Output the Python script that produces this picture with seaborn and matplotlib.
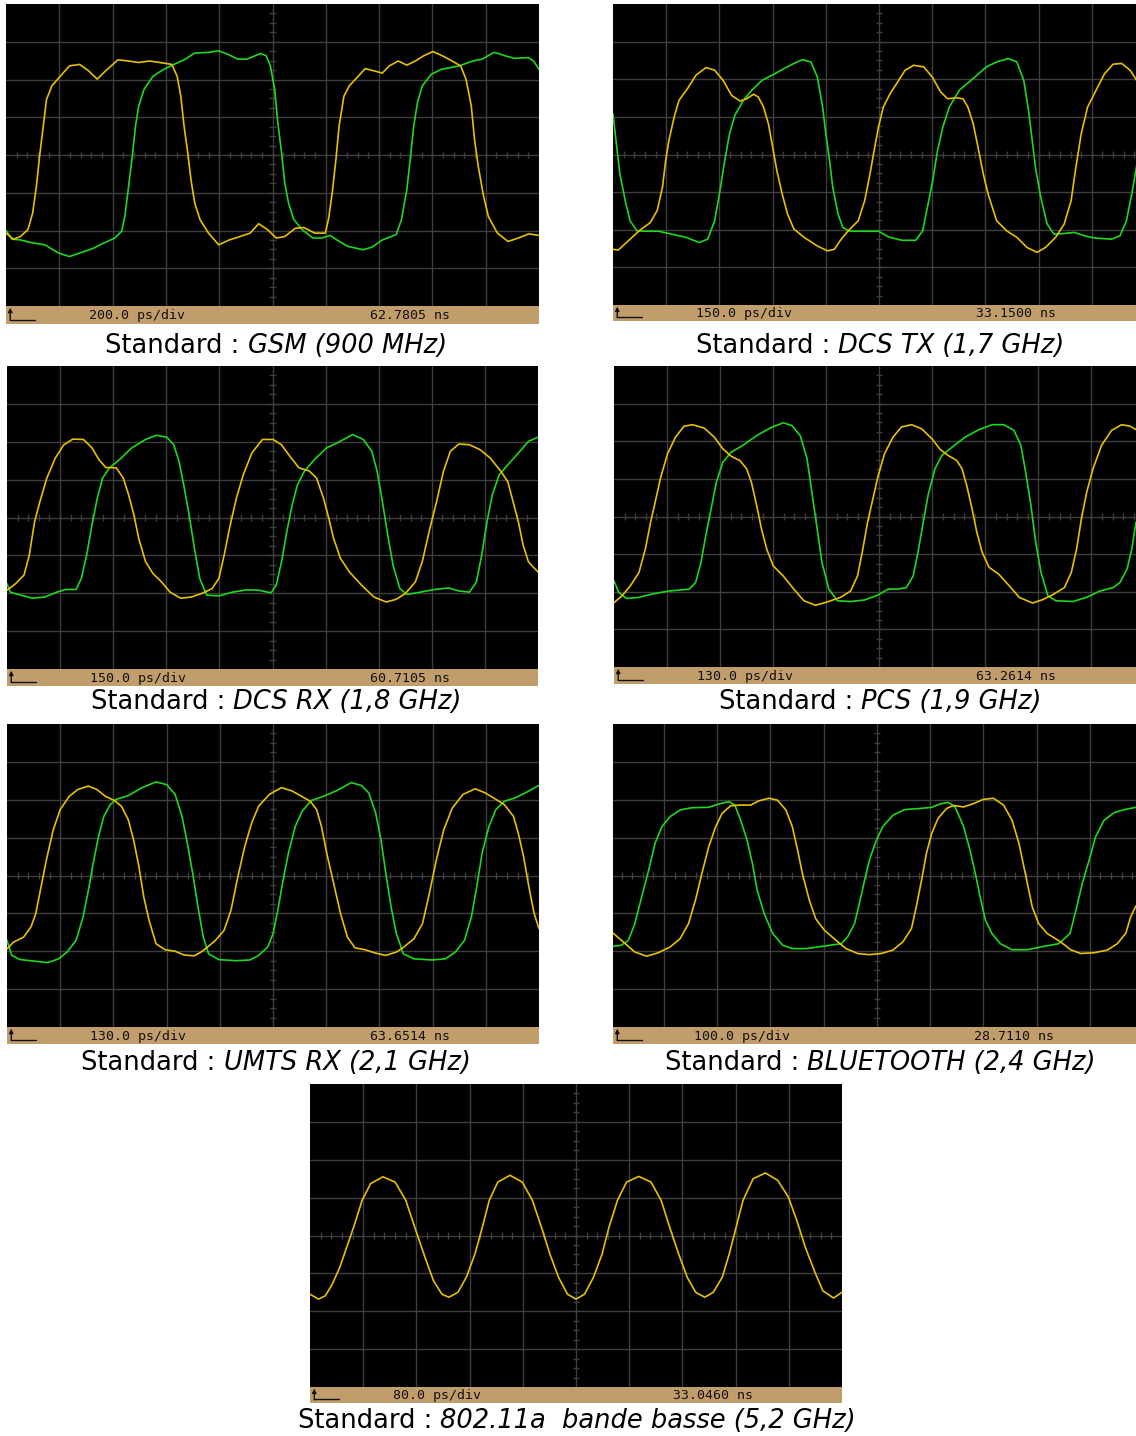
import matplotlib
matplotlib.use("Agg")
import matplotlib.pyplot as plt
import pandas as pd
import numpy as np
import seaborn as sns

# ---------------- data (x in divisions 0..10, y in divisions 0..8) ----------------
gsm_yellow = [(0,1.93),(0.14,1.77),(0.27,1.84),(0.41,2.02),(0.50,2.46),(0.57,3.17),(0.63,3.97),(0.70,4.77),
    (0.76,5.47),(0.86,5.83),(1.02,6.09),(1.19,6.36),(1.38,6.40),(1.55,6.23),(1.71,6.01),(1.87,6.23),(2.10,6.52),
    (2.30,6.49),(2.49,6.45),(2.69,6.49),(2.89,6.45),(3.11,6.40),(3.21,6.09),(3.28,5.56),(3.34,4.77),(3.41,4.06),
    (3.47,3.35),(3.54,2.73),(3.64,2.29),(3.80,1.93),(3.99,1.62),(4.19,1.75),(4.39,1.84),(4.58,1.93),(4.74,2.18),
    (4.91,2.02),(5.07,1.80),(5.23,1.84),(5.43,2.06),(5.59,2.08),(5.79,1.93),(5.99,1.93),(6.05,2.29),(6.12,2.99),
    (6.19,3.88),(6.25,4.77),(6.34,5.56),(6.44,5.83),(6.61,6.09),(6.74,6.29),(6.90,6.23),(7.06,6.17),(7.19,6.36),
    (7.36,6.49),(7.52,6.38),(7.68,6.49),(7.84,6.63),(8.01,6.74),(8.17,6.64),(8.37,6.49),(8.53,6.36),(8.63,6.01),
    (8.73,5.30),(8.79,4.41),(8.86,3.70),(8.96,2.91),(9.05,2.37),(9.22,1.93),(9.42,1.71),(9.61,1.80),(9.81,1.91),(10.0,1.87)]
gsm_green = [(0,2.00),(0.11,1.77),(0.27,1.75),(0.47,1.68),(0.73,1.62),(0.99,1.40),(1.19,1.31),(1.38,1.40),
    (1.64,1.53),(1.84,1.67),(2.04,1.80),(2.17,1.98),(2.23,2.37),(2.30,3.17),(2.37,3.97),(2.43,4.77),(2.49,5.30),
    (2.59,5.74),(2.76,6.09),(2.96,6.27),(3.15,6.40),(3.34,6.52),(3.54,6.70),(3.80,6.72),(3.99,6.76),(4.16,6.67),
    (4.35,6.54),(4.52,6.54),(4.78,6.69),(4.88,6.63),(4.96,6.36),(5.04,5.74),(5.10,4.85),(5.17,4.06),(5.23,3.26),
    (5.30,2.73),(5.40,2.29),(5.56,2.02),(5.76,1.80),(5.92,1.80),(6.08,1.87),(6.21,1.75),(6.41,1.58),(6.70,1.49),
    (6.87,1.56),(7.06,1.75),(7.32,1.89),(7.42,2.29),(7.52,3.08),(7.59,3.97),(7.65,4.77),(7.72,5.39),(7.81,5.83),
    (7.98,6.14),(8.17,6.27),(8.50,6.36),(8.76,6.49),(8.93,6.54),(9.16,6.72),(9.36,6.63),(9.54,6.56),(9.80,6.58),
    (9.90,6.49),(10.0,6.27)]

dcstx_yellow = [(0,1.48),(0.10,1.46),(0.29,1.71),(0.49,1.97),(0.70,2.19),(0.83,2.51),(0.93,3.13),(0.99,3.84),
    (1.05,4.37),(1.15,5.00),(1.24,5.44),(1.40,5.75),(1.56,6.11),(1.75,6.31),(1.91,6.24),(2.07,5.97),(2.23,5.57),
    (2.39,5.42),(2.51,5.48),(2.64,5.60),(2.73,5.53),(2.83,5.26),(2.92,4.82),(2.99,4.28),(3.08,3.57),(3.18,2.95),
    (3.28,2.42),(3.40,2.02),(3.59,1.80),(3.84,1.57),(4.03,1.44),(4.16,1.48),(4.29,1.75),(4.42,1.97),(4.61,2.24),
    (4.73,2.77),(4.83,3.48),(4.92,4.20),(4.99,4.73),(5.08,5.26),(5.21,5.62),(5.37,5.97),(5.49,6.24),(5.65,6.37),
    (5.84,6.33),(6.00,6.06),(6.16,5.66),(6.29,5.48),(6.45,5.51),(6.58,5.48),(6.67,5.26),(6.77,4.82),(6.86,4.20),
    (6.96,3.48),(7.05,2.95),(7.21,2.24),(7.40,1.97),(7.59,1.80),(7.78,1.53),(7.97,1.40),(8.13,1.53),(8.32,1.80),
    (8.48,2.15),(8.61,2.77),(8.70,3.66),(8.80,4.55),(8.92,5.26),(9.08,5.71),(9.24,6.15),(9.40,6.40),(9.56,6.42),
    (9.72,6.24),(9.86,5.93)]
dcstx_green = [(0,5.08),(0.07,4.20),(0.13,3.48),(0.23,2.77),(0.32,2.24),(0.45,1.97),(0.61,1.96),(0.86,1.96),
    (1.11,1.88),(1.37,1.80),(1.62,1.66),(1.78,1.75),(1.91,2.24),(2.00,2.95),(2.10,3.84),(2.19,4.55),(2.29,5.04),
    (2.45,5.44),(2.61,5.71),(2.80,5.97),(3.02,6.13),(3.21,6.28),(3.40,6.42),(3.56,6.52),(3.72,6.46),(3.84,6.06),
    (3.94,5.26),(4.00,4.55),(4.07,3.84),(4.13,3.13),(4.23,2.42),(4.32,2.06),(4.45,1.96),(4.73,1.96),(4.99,1.96),
    (5.18,1.81),(5.43,1.72),(5.69,1.72),(5.82,1.97),(5.91,2.60),(6.01,3.31),(6.10,4.11),(6.20,4.73),(6.32,5.26),
    (6.51,5.71),(6.77,6.02),(7.02,6.33),(7.21,6.46),(7.43,6.55),(7.59,6.46),(7.72,5.97),(7.81,5.17),(7.88,4.37),
    (7.94,3.66),(8.04,2.86),(8.16,2.15),(8.29,1.88),(8.48,1.90),(8.67,1.93),(8.86,1.84),(9.05,1.78),(9.37,1.75),
    (9.53,1.84),(9.65,2.24),(9.75,2.95),(9.86,3.84)]

dcsrx_yellow = [(0,2.08),(0.16,2.25),(0.32,2.48),(0.42,3.01),(0.52,3.89),(0.62,4.42),(0.75,5.04),(0.91,5.57),
    (1.07,5.92),(1.24,6.07),(1.44,6.06),(1.60,5.84),(1.73,5.53),(1.86,5.32),(2.06,5.31),(2.19,5.04),(2.29,4.60),
    (2.39,4.07),(2.48,3.45),(2.61,2.83),(2.75,2.52),(2.91,2.30),(3.07,2.03),(3.27,1.87),(3.47,1.90),(3.66,1.99),
    (3.86,2.12),(3.99,2.39),(4.09,3.01),(4.19,3.71),(4.32,4.51),(4.45,5.13),(4.61,5.70),(4.81,6.06),(5.01,6.06),
    (5.17,5.92),(5.33,5.61),(5.50,5.31),(5.69,5.23),(5.83,5.04),(5.96,4.51),(6.06,3.98),(6.15,3.45),(6.28,2.92),
    (6.45,2.56),(6.68,2.21),(6.91,1.90),(7.14,1.77),(7.33,1.84),(7.50,1.99),(7.69,2.30),(7.82,2.83),(7.95,3.63),
    (8.09,4.42),(8.22,5.22),(8.35,5.75),(8.51,5.94),(8.71,5.92),(8.91,5.79),(9.10,5.57),(9.30,5.22),(9.43,4.95),
    (9.53,4.42),(9.63,3.89),(9.72,3.27),(9.82,2.83),(10.0,2.56)]
dcsrx_green = [(0,2.25),(0.06,2.03),(0.26,1.95),(0.48,1.87),(0.71,1.90),(0.94,2.03),(1.11,2.10),(1.30,2.10),
    (1.40,2.39),(1.50,3.01),(1.60,3.80),(1.70,4.51),(1.80,5.04),(1.93,5.31),(2.12,5.53),(2.35,5.84),(2.61,6.06),
    (2.81,6.17),(3.01,6.12),(3.14,5.92),(3.24,5.48),(3.34,4.77),(3.43,4.07),(3.53,3.18),(3.63,2.39),(3.76,1.95),
    (3.99,1.93),(4.25,2.03),(4.52,2.09),(4.74,2.08),(4.97,2.01),(5.07,2.21),(5.17,2.83),(5.27,3.63),(5.37,4.33),
    (5.47,4.86),(5.60,5.22),(5.79,5.53),(6.02,5.84),(6.22,5.97),(6.51,6.19),(6.71,6.06),(6.87,5.75),(6.97,5.22),
    (7.07,4.42),(7.17,3.54),(7.27,2.74),(7.40,2.12),(7.53,1.97),(7.79,2.03),(8.05,2.10),(8.32,2.14),(8.51,2.06),
    (8.71,2.03),(8.84,2.30),(8.94,3.01),(9.04,3.89),(9.14,4.60),(9.27,5.13),(9.43,5.39),(9.63,5.70),(9.82,6.01),
    (10.0,6.12)]

pcs_yellow = [(0,1.71),(0.15,1.89),(0.31,2.16),(0.47,2.51),(0.59,3.13),(0.69,3.85),(0.79,4.47),(0.88,5.04),
    (1.01,5.67),(1.16,6.11),(1.32,6.40),(1.48,6.44),(1.70,6.35),(1.89,6.11),(2.05,5.80),(2.21,5.60),(2.37,5.49),
    (2.50,5.27),(2.59,4.91),(2.69,4.29),(2.78,3.67),(2.88,3.13),(3.00,2.69),(3.19,2.42),(3.39,2.07),(3.58,1.76),
    (3.80,1.64),(4.02,1.73),(4.27,1.85),(4.46,2.02),(4.59,2.42),(4.68,3.05),(4.78,3.85),(4.88,4.47),(4.98,5.09),
    (5.10,5.67),(5.26,6.11),(5.42,6.38),(5.61,6.44),(5.80,6.33),(5.99,6.07),(6.15,5.78),(6.30,5.62),(6.46,5.49),
    (6.56,5.27),(6.65,4.82),(6.75,4.20),(6.84,3.58),(6.94,3.05),(7.07,2.65),(7.25,2.47),(7.45,2.16),(7.64,1.85),
    (7.89,1.70),(8.08,1.79),(8.27,1.92),(8.49,2.11),(8.62,2.51),(8.72,3.13),(8.81,3.93),(8.91,4.64),(9.03,5.27),
    (9.19,5.89),(9.38,6.29),(9.57,6.44),(9.73,6.40),(9.84,6.31)]
pcs_green = [(0,2.29),(0.09,1.98),(0.24,1.82),(0.47,1.85),(0.72,1.94),(1.04,2.02),(1.42,2.07),(1.54,2.25),
    (1.64,2.78),(1.73,3.49),(1.83,4.20),(1.93,4.91),(2.05,5.44),(2.21,5.71),(2.43,5.89),(2.69,6.15),(2.94,6.35),
    (3.19,6.49),(3.35,6.42),(3.51,6.15),(3.64,5.53),(3.73,4.64),(3.83,3.67),(3.92,2.78),(4.05,2.07),(4.21,1.76),
    (4.46,1.74),(4.72,1.78),(4.97,1.91),(5.17,2.07),(5.35,2.07),(5.51,2.11),(5.64,2.42),(5.73,3.05),(5.83,3.85),
    (5.92,4.56),(6.05,5.27),(6.18,5.62),(6.37,5.84),(6.62,6.11),(6.88,6.31),(7.13,6.44),(7.35,6.44),(7.54,6.29),
    (7.67,5.89),(7.76,5.18),(7.86,4.29),(7.95,3.31),(8.05,2.51),(8.18,1.89),(8.33,1.76),(8.65,1.74),(8.91,1.85),
    (9.16,2.02),(9.41,2.11),(9.54,2.25),(9.67,2.60),(9.76,3.13),(9.84,3.85)]

umts_yellow = [(0,2.06),(0.12,2.24),(0.31,2.37),(0.45,2.64),(0.54,2.99),(0.64,3.70),(0.74,4.41),(0.87,5.21),
    (1.00,5.74),(1.17,6.09),(1.33,6.27),(1.53,6.36),(1.69,6.27),(1.85,6.09),(2.02,5.98),(2.15,5.83),(2.28,5.47),
    (2.38,4.94),(2.48,4.23),(2.57,3.44),(2.67,2.82),(2.80,2.20),(2.97,2.04),(3.16,2.00),(3.33,1.90),(3.52,1.88),
    (3.65,1.98),(3.77,2.11),(3.92,2.29),(4.08,2.55),(4.21,3.08),(4.34,3.97),(4.47,4.77),(4.60,5.39),(4.73,5.83),
    (4.93,6.14),(5.16,6.32),(5.36,6.23),(5.55,6.08),(5.70,5.96),(5.82,5.74),(5.91,5.30),(6.01,4.59),(6.14,3.79),
    (6.27,2.99),(6.40,2.37),(6.54,2.09),(6.73,2.04),(6.93,1.95),(7.12,1.89),(7.32,1.98),(7.44,2.09),(7.65,2.33),
    (7.81,2.73),(7.94,3.53),(8.07,4.41),(8.21,5.21),(8.37,5.78),(8.57,6.14),(8.80,6.29),(8.99,6.18),(9.19,6.01),
    (9.35,5.87),(9.52,5.56),(9.61,5.12),(9.71,4.50),(9.81,3.70),(9.91,2.99),(10.0,2.60)]
umts_green = [(0,2.29),(0.09,1.89),(0.25,1.78),(0.51,1.74),(0.77,1.70),(0.97,1.80),(1.13,1.98),(1.30,2.29),
    (1.43,2.91),(1.53,3.61),(1.62,4.32),(1.72,5.03),(1.82,5.56),(1.94,5.87),(2.05,6.01),(2.28,6.11),(2.54,6.32),
    (2.80,6.47),(3.00,6.40),(3.16,6.14),(3.29,5.56),(3.39,4.85),(3.49,4.06),(3.59,3.17),(3.69,2.37),(3.79,1.93),
    (3.98,1.78),(4.31,1.75),(4.57,1.77),(4.73,1.89),(4.90,2.11),(5.00,2.46),(5.09,3.08),(5.19,3.88),(5.29,4.59),
    (5.42,5.30),(5.55,5.70),(5.72,5.98),(5.95,6.09),(6.21,6.25),(6.47,6.45),(6.66,6.38),(6.80,6.18),(6.93,5.65),
    (7.03,4.94),(7.12,4.06),(7.22,3.17),(7.32,2.46),(7.45,1.93),(7.65,1.80),(7.98,1.77),(8.24,1.80),(8.43,1.98),
    (8.60,2.29),(8.73,2.91),(8.83,3.70),(8.93,4.59),(9.06,5.30),(9.19,5.74),(9.35,5.96),(9.55,6.05),(9.74,6.18),
    (10.0,6.38)]

bt_green = [(0.04,2.13),(0.20,2.16),(0.33,2.29),(0.45,2.73),(0.58,3.44),(0.71,4.14),(0.83,4.85),(0.96,5.29),
    (1.11,5.55),(1.30,5.73),(1.52,5.79),(1.84,5.80),(2.03,5.89),(2.22,5.95),(2.33,5.86),(2.44,5.46),(2.56,4.93),
    (2.66,4.32),(2.75,3.61),(2.88,3.00),(3.04,2.47),(3.23,2.16),(3.41,2.07),(3.67,2.07),(3.98,2.13),(4.33,2.20),
    (4.45,2.38),(4.58,2.73),(4.67,3.26),(4.77,3.88),(4.86,4.41),(4.99,4.93),(5.11,5.29),(5.30,5.59),(5.52,5.74),
    (5.81,5.77),(6.03,5.80),(6.19,5.89),(6.34,5.93),(6.47,5.81),(6.63,5.29),(6.75,4.67),(6.85,4.05),(6.94,3.44),
    (7.04,2.82),(7.16,2.47),(7.32,2.20),(7.54,2.04),(7.82,2.04),(8.14,2.13),(8.42,2.20),(8.63,2.47),(8.74,3.08),
    (8.86,3.79),(8.99,4.41),(9.11,5.02),(9.27,5.46),(9.46,5.66),(9.65,5.74),(9.87,5.80)]
bt_yellow = [(0.04,2.48),(0.23,2.25),(0.45,1.98),(0.67,1.87),(0.89,1.96),(1.11,2.11),(1.30,2.33),(1.46,2.73),
    (1.59,3.35),(1.71,4.05),(1.84,4.76),(1.97,5.29),(2.09,5.64),(2.25,5.84),(2.44,5.86),(2.63,5.86),(2.78,5.97),
    (2.97,6.04),(3.13,5.99),(3.29,5.73),(3.41,5.29),(3.51,4.67),(3.60,4.05),(3.73,3.35),(3.85,2.86),(4.01,2.56),
    (4.23,2.29),(4.42,2.07),(4.64,1.94),(4.86,1.91),(5.08,1.94),(5.30,2.03),(5.49,2.25),(5.65,2.60),(5.74,3.17),
    (5.84,3.88),(5.93,4.58),(6.03,5.11),(6.15,5.51),(6.31,5.77),(6.44,5.85),(6.63,5.81),(6.82,5.90),(7.00,6.01),
    (7.19,6.04),(7.38,5.86),(7.54,5.46),(7.67,4.85),(7.79,4.05),(7.92,3.17),(8.04,2.73),(8.20,2.47),(8.45,2.25),
    (8.64,2.04),(8.83,1.94),(9.08,1.96),(9.33,2.03),(9.52,2.20),(9.68,2.48),(9.77,2.91),(9.87,3.20)]

wifi_yellow = [(0,2.45),(0.16,2.32),(0.29,2.41),(0.42,2.72),(0.56,3.16),(0.69,3.69),(0.82,4.22),(0.98,4.93),
    (1.14,5.37),(1.37,5.55),(1.60,5.41),(1.80,4.93),(1.99,4.13),(2.16,3.43),(2.32,2.81),(2.48,2.45),(2.61,2.37),
    (2.78,2.50),(2.94,2.90),(3.10,3.51),(3.24,4.22),(3.37,4.93),(3.53,5.41),(3.76,5.59),(3.99,5.41),(4.18,4.93),
    (4.35,4.22),(4.51,3.51),(4.67,2.90),(4.84,2.45),(5.00,2.32),(5.16,2.45),(5.33,2.90),(5.49,3.51),(5.62,4.22),
    (5.78,4.93),(5.95,5.41),(6.18,5.56),(6.41,5.41),(6.60,4.93),(6.76,4.22),(6.93,3.51),(7.09,2.90),(7.25,2.50),
    (7.42,2.37),(7.58,2.50),(7.75,2.90),(7.88,3.51),(8.01,4.22),(8.14,4.93),(8.33,5.50),(8.56,5.65),(8.79,5.46),
    (8.99,5.02),(9.15,4.40),(9.31,3.69),(9.48,3.07),(9.64,2.54),(9.84,2.35),(10.0,2.50)]

standards = ["GSM (900 MHz)", "DCS TX (1,7 GHz)", "DCS RX (1,8 GHz)", "PCS (1,9 GHz)",
             "UMTS RX (2,1 GHz)", "BLUETOOTH (2,4 GHz)", "802.11a  bande basse (5,2 GHz)"]
timebases = ["200.0 ps/div", "150.0 ps/div", "150.0 ps/div", "130.0 ps/div",
             "130.0 ps/div", "100.0 ps/div", "80.0 ps/div"]
positions = ["62.7805 ns", "33.1500 ns", "60.7105 ns", "63.2614 ns",
             "63.6514 ns", "28.7110 ns", "33.0460 ns"]
traces = [
    [gsm_green, gsm_yellow],
    [dcstx_green, dcstx_yellow],
    [dcsrx_green, dcsrx_yellow],
    [pcs_green, pcs_yellow],
    [umts_green, umts_yellow],
    [bt_green, bt_yellow],
    [wifi_yellow],
]
trace_colors = [["green", "yellow"]] * 6 + [["yellow"]]

# ---------------- layout (pixels) ----------------
W, H = 1136, 1436
# left, top, right, plot bottom, bar bottom, xlim, caption centre x, caption centre y
layout = [
    (6, 4, 539, 306, 324, (0, 10), 276, 346),
    (613, 4, 1136, 305, 321, (0, 9.83), 880, 346),
    (7, 366, 538, 669, 686, (0, 10), 276, 702),
    (614, 366, 1136, 667, 684, (0, 9.84), 880, 702),
    (7, 724, 539, 1027, 1044, (0, 10), 276, 1063),
    (613, 724, 1136, 1027, 1044, (0.04, 9.87), 880, 1063),
    (310, 1084, 842, 1387, 1403, (0, 10), 577, 1421),
]

COLORS = {"yellow": "#E8C000", "green": "#1ED81E"}
GRID = "#3E3E3E"
TAN = "#C29D6C"

sns.set_style("white")
plt.rcParams["font.family"] = ["DejaVu Sans"]

fig = plt.figure(figsize=(W / 100, H / 100), dpi=100)


def px_axes(L, T, R, B):
    return fig.add_axes([L / W, 1 - B / H, (R - L) / W, (B - T) / H])


for i, (L, T, R, B, BB, xl, cx, cy) in enumerate(layout):
    ax = px_axes(L, T, R, B)
    ax.set_facecolor("black")
    ax.set_xlim(*xl)
    ax.set_ylim(0, 8)
    for v in range(1, 10):
        ax.axvline(v, color=GRID, lw=1.0, zorder=1)
    for h in range(1, 8):
        ax.axhline(h, color=GRID, lw=1.0, zorder=1)
    ax.vlines(np.arange(0.2, 10, 0.2), 3.92, 4.08, color=GRID, lw=1.0, zorder=1)
    ax.hlines(np.arange(0.25, 8, 0.25), 4.94, 5.06, color=GRID, lw=1.0, zorder=1)
    for tr, cname in zip(traces[i], trace_colors[i]):
        df = pd.DataFrame(tr, columns=["t", "v"])
        sns.lineplot(data=df, x="t", y="v", ax=ax, color=COLORS[cname], lw=1.2,
                     estimator=None, sort=False, legend=False, zorder=3)
    ax.set_xticks([]); ax.set_yticks([])
    ax.set_xlabel(""); ax.set_ylabel("")
    for s in ax.spines.values():
        s.set_visible(False)

    # status bar
    bx = px_axes(L, B, R, BB)
    bx.set_facecolor(TAN)
    bx.set_xlim(*xl); bx.set_ylim(0, 1)
    bx.set_xticks([]); bx.set_yticks([])
    for s in bx.spines.values():
        s.set_visible(False)
    x0 = xl[0]
    bx.text(1.56, 0.45, timebases[i], family="DejaVu Sans Mono", fontsize=9.5,
            va="center", ha="left", color="#111111")
    bx.text(6.83, 0.45, positions[i], family="DejaVu Sans Mono", fontsize=9.5,
            va="center", ha="left", color="#111111")
    bx.plot([x0 + 0.08, x0 + 0.55], [0.22, 0.22], color="#111111", lw=1.0)
    bx.annotate("", xy=(x0 + 0.08, 0.9), xytext=(x0 + 0.08, 0.2),
                arrowprops=dict(arrowstyle="-|>", color="#111111", lw=1.0,
                                mutation_scale=6, shrinkA=0, shrinkB=0))

# captions
fig.canvas.draw()
renderer = fig.canvas.get_renderer()
for i, (L, T, R, B, BB, xl, cx, cy) in enumerate(layout):
    t1 = fig.text(0, 1 - cy / H, "Standard : ", fontsize=18.5, va="center", ha="left",
                  color="black")
    t2 = fig.text(0, 1 - cy / H, standards[i], fontsize=18.5, style="italic",
                  va="center", ha="left", color="black")
    w1 = t1.get_window_extent(renderer).width
    w2 = t2.get_window_extent(renderer).width
    start = cx - (w1 + w2) / 2
    t1.set_x(start / W)
    t2.set_x((start + w1) / W)

fig.savefig("out.png", dpi=100, facecolor="white")
